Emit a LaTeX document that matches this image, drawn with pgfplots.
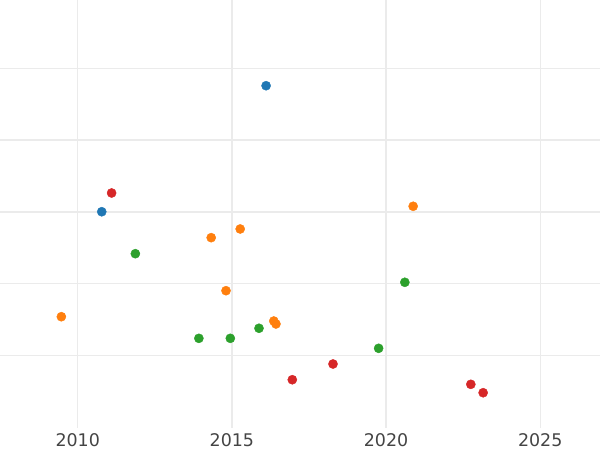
\documentclass[border=0pt]{standalone}
\usepackage{pgfplots}
\pgfplotsset{compat=1.18}
\usepackage{fontspec}
\setmainfont{DejaVu Sans}
\definecolor{tblue}{HTML}{1F77B4}
\definecolor{torange}{HTML}{FF7F0E}
\definecolor{tgreen}{HTML}{2CA02C}
\definecolor{tred}{HTML}{D62728}
\definecolor{gridc}{RGB}{235,235,235}
\definecolor{tickc}{HTML}{444444}
\begin{document}
\begin{tikzpicture}
\begin{axis}[
  scale only axis,
  width=600bp, height=427.5bp,
  xmin=2007.48, xmax=2026.94,
  ymin=0, ymax=5.95,
  axis x line*=bottom, axis y line*=left,
  x axis line style={draw=none},
  y axis line style={draw=none},
  major tick length=0pt,
  xtick={2010,2015,2020,2025},
  ytick={1,2,3,4,5},
  yticklabels={},
  xmajorgrids, ymajorgrids,
  major grid style={gridc, line width=1.3bp},
  /pgf/number format/assume math mode=true,
  /pgf/number format/1000 sep={},
  xticklabel style={font=\fontsize{17.5}{20}\selectfont, text=tickc, yshift=-3bp},
]
\addplot[only marks, mark=*, mark size=4.6, color=tblue] coordinates {
(2016.11,4.757) (2010.78,3.003)
};
\addplot[only marks, mark=*, mark size=4.6, color=tred] coordinates {
(2011.10,3.264) (2016.96,0.665) (2018.28,0.884) (2022.75,0.601) (2023.15,0.484)
};
\addplot[only marks, mark=*, mark size=4.6, color=torange] coordinates {
(2020.88,3.079) (2014.33,2.642) (2015.27,2.763) (2014.81,1.904) (2009.47,1.542) (2016.36,1.482) (2016.43,1.441)
};
\addplot[only marks, mark=*, mark size=4.6, color=tgreen] coordinates {
(2011.87,2.419) (2015.88,1.381) (2013.93,1.241) (2014.95,1.241) (2020.61,2.021) (2019.76,1.102)
};
\end{axis}
\pgfresetboundingbox
\path (current axis.south west) ++(0,-22.5bp) rectangle (current axis.north east);
\end{tikzpicture}
\end{document}
